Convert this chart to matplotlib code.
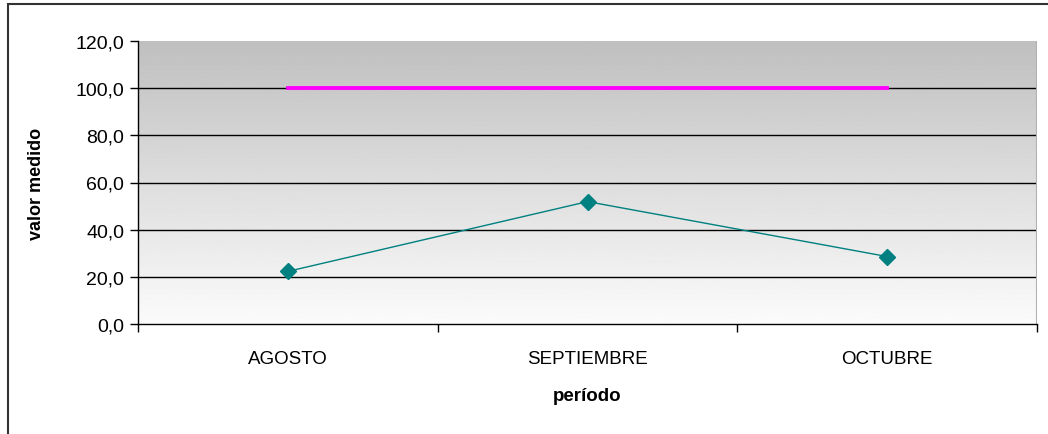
import matplotlib.pyplot as plt
import numpy as np

plt.rcParams['font.family'] = ['Liberation Sans', 'DejaVu Sans']

# Monthly measurements and target value
periodos = ['AGOSTO', 'SEPTIEMBRE', 'OCTUBRE']
valor_medido = [22.3, 51.9, 28.6]
meta = [100.0, 100.0, 100.0]
y_ticks = [0, 20, 40, 60, 80, 100, 120]

fig = plt.figure(figsize=(10.48, 4.35), dpi=100)
ax = fig.add_axes([138 / 1048, 1 - 325 / 435, (1037 - 138) / 1048, (325 - 42) / 435])

x = np.arange(len(periodos))
ax.set_xlim(-0.5, len(periodos) - 0.5)

# white (bottom) to gray (top) gradient background
grad = np.linspace(0.985, 0.75, 256).reshape(-1, 1)
ax.imshow(grad, cmap='gray', vmin=0, vmax=1, aspect='auto', origin='lower',
          extent=(-0.5, len(periodos) - 0.5, 0, 120), zorder=0)
ax.set_ylim(0, 120)

for yv in y_ticks[1:-1]:
    ax.axhline(yv, color='black', lw=1, zorder=1)

ax.plot(x, meta, color='#ff00ff', lw=2.8, zorder=3)
ax.plot(x, valor_medido, color='#008080', lw=1, marker='D', markersize=8,
        markerfacecolor='#008080', markeredgecolor='#008080', zorder=4)

ax.set_yticks(y_ticks)
ax.set_yticklabels([f'{v:.1f}'.replace('.', ',') for v in y_ticks], fontsize=14)
ax.set_xticks(np.arange(-0.5, len(periodos)), minor=False)
ax.set_xticklabels([])
ax.set_xticks(x, minor=True)
ax.set_xticklabels(periodos, minor=True, fontsize=13.5)
ax.tick_params(axis='x', which='minor', length=0, pad=19)
ax.tick_params(axis='x', which='major', length=6, width=1, direction='out')
ax.tick_params(axis='y', length=6, width=1, direction='out', pad=4)

for side in ['top', 'right']:
    ax.spines[side].set_visible(False)
ax.spines['left'].set_linewidth(1)
ax.spines['bottom'].set_linewidth(1)
ax.axvline(len(periodos) - 0.5, color='#b0b0b0', lw=1.5, zorder=2)

ax.set_ylabel('valor medido', fontsize=13, fontweight='bold', labelpad=22)
ax.set_xlabel('período', fontsize=13.5, fontweight='bold', labelpad=14)

# chart border
fig.add_artist(plt.Rectangle((8 / 1048, -0.05), 1.1, 1 - 5 / 435 + 0.05,
                             transform=fig.transFigure, fill=False,
                             edgecolor='#333333', lw=1.5))

fig.savefig('out.png', dpi=100)
